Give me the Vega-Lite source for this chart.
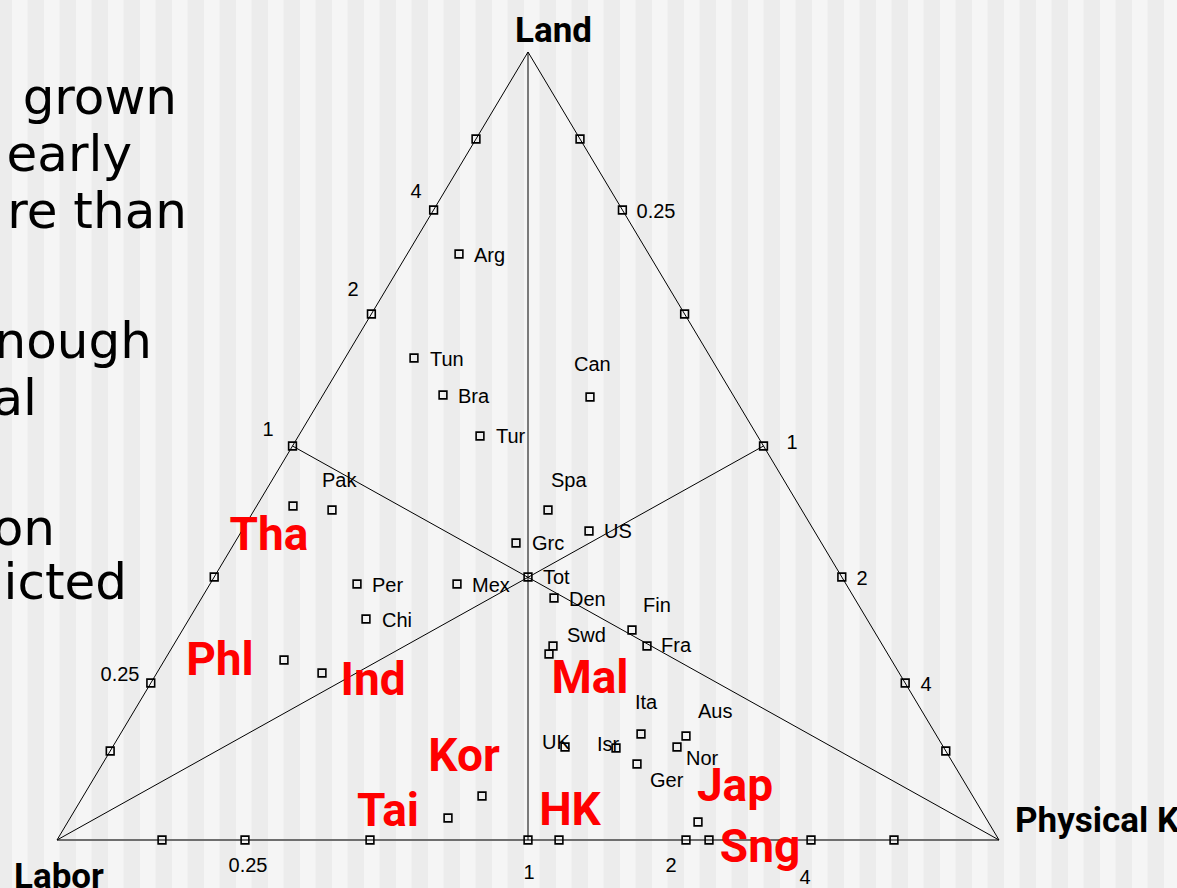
{
  "$schema": "https://vega.github.io/schema/vega-lite/v6.json",
  "width": 1177,
  "height": 888,
  "autosize": {"type": "none"},
  "padding": 0,
  "background": "#ececec",
  "config": {"view": {"stroke": null}},
  "datasets": {
    "stripes": [
      {"x": 12, "x2": 27.5, "y": 0, "y2": 888}, {"x": 44, "x2": 59.5, "y": 0, "y2": 888}, {"x": 76, "x2": 91.5, "y": 0, "y2": 888}, {"x": 108, "x2": 123.5, "y": 0, "y2": 888},
      {"x": 140, "x2": 155.5, "y": 0, "y2": 888}, {"x": 172, "x2": 187.5, "y": 0, "y2": 888}, {"x": 204, "x2": 219.5, "y": 0, "y2": 888}, {"x": 236, "x2": 251.5, "y": 0, "y2": 888},
      {"x": 268, "x2": 283.5, "y": 0, "y2": 888}, {"x": 300, "x2": 315.5, "y": 0, "y2": 888}, {"x": 332, "x2": 347.5, "y": 0, "y2": 888}, {"x": 364, "x2": 379.5, "y": 0, "y2": 888},
      {"x": 396, "x2": 411.5, "y": 0, "y2": 888}, {"x": 428, "x2": 443.5, "y": 0, "y2": 888}, {"x": 460, "x2": 475.5, "y": 0, "y2": 888}, {"x": 492, "x2": 507.5, "y": 0, "y2": 888},
      {"x": 524, "x2": 539.5, "y": 0, "y2": 888}, {"x": 556, "x2": 571.5, "y": 0, "y2": 888}, {"x": 588, "x2": 603.5, "y": 0, "y2": 888}, {"x": 620, "x2": 635.5, "y": 0, "y2": 888},
      {"x": 652, "x2": 667.5, "y": 0, "y2": 888}, {"x": 684, "x2": 699.5, "y": 0, "y2": 888}, {"x": 716, "x2": 731.5, "y": 0, "y2": 888}, {"x": 748, "x2": 763.5, "y": 0, "y2": 888},
      {"x": 780, "x2": 795.5, "y": 0, "y2": 888}, {"x": 812, "x2": 827.5, "y": 0, "y2": 888}, {"x": 844, "x2": 859.5, "y": 0, "y2": 888}, {"x": 876, "x2": 891.5, "y": 0, "y2": 888},
      {"x": 908, "x2": 923.5, "y": 0, "y2": 888}, {"x": 940, "x2": 955.5, "y": 0, "y2": 888}, {"x": 972, "x2": 987.5, "y": 0, "y2": 888}, {"x": 1004, "x2": 1019.5, "y": 0, "y2": 888},
      {"x": 1036, "x2": 1051.5, "y": 0, "y2": 888}, {"x": 1068, "x2": 1083.5, "y": 0, "y2": 888}, {"x": 1100, "x2": 1115.5, "y": 0, "y2": 888}, {"x": 1132, "x2": 1147.5, "y": 0, "y2": 888},
      {"x": 1164, "x2": 1179.5, "y": 0, "y2": 888}
    ],
    "slide": [
      {"t": "grown", "x": 177, "y": 114},
      {"t": "early", "x": 132, "y": 171},
      {"t": "re than", "x": 187, "y": 228},
      {"t": "nough", "x": 152, "y": 358},
      {"t": "al", "x": 37, "y": 415},
      {"t": "on", "x": 55, "y": 545},
      {"t": "icted", "x": 127, "y": 599}
    ],
    "edges": [
      {"x": 57, "y": 840, "x2": 528, "y2": 52},
      {"x": 999, "y": 840, "x2": 528, "y2": 52},
      {"x": 528, "y": 52, "x2": 528, "y2": 840},
      {"x": 57, "y": 840, "x2": 763.5, "y2": 446},
      {"x": 999, "y": 840, "x2": 292.5, "y2": 446}
    ],
    "base": [
      {"x": 57, "y": 840, "x2": 999, "y2": 840}
    ],
    "squares": [
      {"n": "t", "x": 476, "y": 139}, {"n": "t", "x": 433.6, "y": 210}, {"n": "t", "x": 371.4, "y": 314},
      {"n": "t", "x": 292.5, "y": 446}, {"n": "t", "x": 214.2, "y": 577}, {"n": "t", "x": 150.8, "y": 683},
      {"n": "t", "x": 110.2, "y": 751},
      {"n": "t", "x": 580, "y": 139}, {"n": "t", "x": 622.4, "y": 210}, {"n": "t", "x": 684.6, "y": 314},
      {"n": "t", "x": 763.5, "y": 446}, {"n": "t", "x": 841.8, "y": 577}, {"n": "t", "x": 905.2, "y": 683},
      {"n": "t", "x": 945.8, "y": 751},
      {"n": "t", "x": 162, "y": 840}, {"n": "t", "x": 245, "y": 840}, {"n": "t", "x": 370, "y": 840},
      {"n": "t", "x": 528, "y": 840}, {"n": "t", "x": 686, "y": 840}, {"n": "t", "x": 811, "y": 840},
      {"n": "t", "x": 894, "y": 840},
      {"n": "Arg", "x": 459, "y": 254}, {"n": "Tun", "x": 414, "y": 358}, {"n": "Bra", "x": 443, "y": 395},
      {"n": "Tur", "x": 480, "y": 436}, {"n": "Can", "x": 590, "y": 397}, {"n": "Spa", "x": 548, "y": 510},
      {"n": "Pak", "x": 332, "y": 510}, {"n": "Tha", "x": 293, "y": 506}, {"n": "US", "x": 589, "y": 531},
      {"n": "Grc", "x": 516, "y": 543}, {"n": "Tot", "x": 528, "y": 577}, {"n": "Per", "x": 357, "y": 584},
      {"n": "Mex", "x": 457, "y": 584}, {"n": "Den", "x": 554, "y": 598}, {"n": "Chi", "x": 366, "y": 619},
      {"n": "Fin", "x": 632, "y": 630}, {"n": "Swd", "x": 553, "y": 646}, {"n": "Mal", "x": 549, "y": 654},
      {"n": "Fra", "x": 647, "y": 646}, {"n": "Phl", "x": 284, "y": 660}, {"n": "Ind", "x": 322, "y": 673},
      {"n": "Ita", "x": 641, "y": 734}, {"n": "Aus", "x": 686, "y": 736}, {"n": "UK", "x": 565, "y": 747},
      {"n": "Isr", "x": 616, "y": 748}, {"n": "Nor", "x": 677, "y": 747}, {"n": "Ger", "x": 637, "y": 764},
      {"n": "Kor", "x": 482, "y": 796}, {"n": "Tai", "x": 448, "y": 818}, {"n": "Jap", "x": 698, "y": 822},
      {"n": "HK", "x": 559, "y": 840}, {"n": "Sng", "x": 709, "y": 840}
    ],
    "names": [
      {"t": "Arg", "x": 474, "y": 262}, {"t": "Tun", "x": 430, "y": 366}, {"t": "Bra", "x": 458, "y": 403},
      {"t": "Tur", "x": 496, "y": 443}, {"t": "Can", "x": 574, "y": 371}, {"t": "Spa", "x": 551, "y": 487},
      {"t": "Pak", "x": 322, "y": 487}, {"t": "US", "x": 604, "y": 538}, {"t": "Grc", "x": 532, "y": 550},
      {"t": "Tot", "x": 543, "y": 584}, {"t": "Per", "x": 372, "y": 592}, {"t": "Mex", "x": 472, "y": 592},
      {"t": "Den", "x": 569, "y": 606}, {"t": "Chi", "x": 382, "y": 627}, {"t": "Fin", "x": 643, "y": 612},
      {"t": "Swd", "x": 567, "y": 642}, {"t": "Fra", "x": 661, "y": 652}, {"t": "Ita", "x": 635, "y": 709},
      {"t": "Aus", "x": 698, "y": 718}, {"t": "UK", "x": 542, "y": 749}, {"t": "Isr", "x": 597, "y": 751},
      {"t": "Nor", "x": 686, "y": 765}, {"t": "Ger", "x": 650, "y": 787}
    ],
    "ticklabels": [
      {"t": "4", "x": 416, "y": 198}, {"t": "2", "x": 353, "y": 296}, {"t": "1", "x": 268, "y": 436},
      {"t": "0.25", "x": 120, "y": 681},
      {"t": "0.25", "x": 656, "y": 218}, {"t": "1", "x": 792, "y": 449}, {"t": "2", "x": 862, "y": 585},
      {"t": "4", "x": 926, "y": 691},
      {"t": "0.25", "x": 248, "y": 872}, {"t": "1", "x": 529, "y": 879}, {"t": "2", "x": 671, "y": 872},
      {"t": "4", "x": 805, "y": 884}
    ],
    "red": [
      {"t": "Tha", "x": 269, "y": 550}, {"t": "Phl", "x": 220, "y": 675}, {"t": "Ind", "x": 373, "y": 695},
      {"t": "Mal", "x": 590, "y": 693}, {"t": "Kor", "x": 464, "y": 771}, {"t": "Tai", "x": 388, "y": 826},
      {"t": "HK", "x": 570, "y": 825}, {"t": "Jap", "x": 735, "y": 801}, {"t": "Sng", "x": 760, "y": 862}
    ],
    "titles": [
      {"t": "Land", "x": 515, "y": 42},
      {"t": "Labor", "x": 14, "y": 888},
      {"t": "Physical K", "x": 1015, "y": 832}
    ]
  },
  "encoding": {
    "x": {"field": "x", "type": "quantitative", "scale": {"domain": [0, 1177], "nice": false, "zero": false}, "axis": null},
    "y": {"field": "y", "type": "quantitative", "scale": {"domain": [0, 888], "nice": false, "zero": false, "reverse": true}, "axis": null}
  },
  "layer": [
    {
      "data": {"name": "stripes"},
      "mark": {"type": "rect", "fill": "#f5f5f5", "opacity": 1},
      "encoding": {
        "x2": {"field": "x2"},
        "y2": {"field": "y2"}
      }
    },
    {
      "data": {"name": "slide"},
      "mark": {"type": "text", "align": "right", "baseline": "alphabetic", "font": "DejaVu Sans", "fontSize": 50, "color": "#000000"},
      "encoding": {"text": {"field": "t"}}
    },
    {
      "data": {"name": "base"},
      "mark": {"type": "rule", "color": "#6e6e6e", "strokeWidth": 1.8},
      "encoding": {"x2": {"field": "x2"}, "y2": {"field": "y2"}}
    },
    {
      "data": {"name": "edges"},
      "mark": {"type": "rule", "color": "#000000", "strokeWidth": 1},
      "encoding": {"x2": {"field": "x2"}, "y2": {"field": "y2"}}
    },
    {
      "data": {"name": "squares"},
      "mark": {"type": "point", "shape": "square", "filled": false, "color": "#000000", "strokeWidth": 1.6, "size": 60, "opacity": 1},
      "encoding": {}
    },
    {
      "data": {"name": "names"},
      "mark": {"type": "text", "align": "left", "baseline": "alphabetic", "font": "Liberation Sans", "fontSize": 20, "color": "#000000"},
      "encoding": {"text": {"field": "t"}}
    },
    {
      "data": {"name": "ticklabels"},
      "mark": {"type": "text", "align": "center", "baseline": "alphabetic", "font": "Liberation Sans", "fontSize": 20, "color": "#000000"},
      "encoding": {"text": {"field": "t"}}
    },
    {
      "data": {"name": "red"},
      "mark": {"type": "text", "align": "center", "baseline": "alphabetic", "font": "Roboto", "fontWeight": "bold", "fontSize": 46, "color": "#ff0000"},
      "encoding": {"text": {"field": "t"}}
    },
    {
      "data": {"name": "titles"},
      "mark": {"type": "text", "align": "left", "baseline": "alphabetic", "font": "Roboto", "fontWeight": "bold", "fontSize": 35, "color": "#000000"},
      "encoding": {"text": {"field": "t"}}
    }
  ]
}
